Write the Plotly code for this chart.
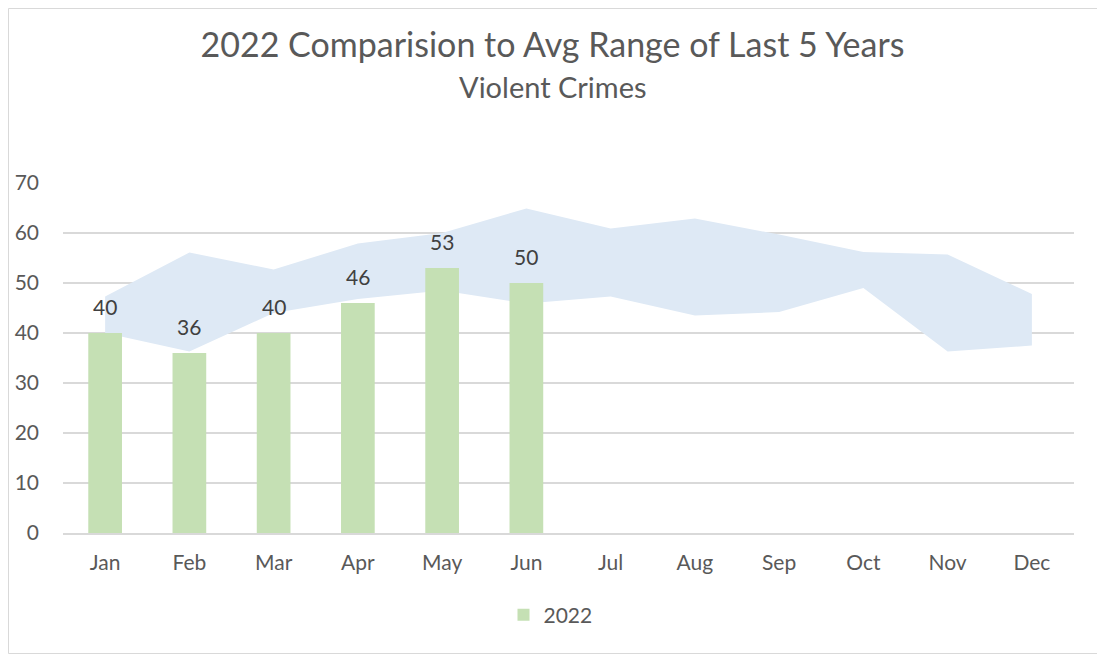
import plotly.graph_objects as go

months = ["Jan", "Feb", "Mar", "Apr", "May", "Jun",
          "Jul", "Aug", "Sep", "Oct", "Nov", "Dec"]
range_low = [40, 36.3, 44.0, 46.8, 48.5, 45.9, 47.3, 43.5, 44.2, 49.0, 36.3, 37.5]
range_high = [47.3, 56.1, 52.7, 57.9, 60.0, 64.9, 60.9, 62.9, 59.7, 56.2, 55.7, 47.8]
months_2022 = ["Jan", "Feb", "Mar", "Apr", "May", "Jun"]
crimes_2022 = [40, 36, 40, 46, 53, 50]

FONT = "Lato"
GRID = "#D9D9D9"
TXT = "#595959"

# plot area in figure pixels (page has an 8px body margin)
L, R, T, B = 55, 39, 175, 129
PW, PH = 1105 - L - R, 654 - T - B
CX = (552.5 - 8 - L) / PW  # horizontal centre of the visible chart, paper coords

fig = go.Figure()

# avg range band (main axes, underneath)
fig.add_trace(go.Scatter(x=months, y=range_low, mode="lines", line=dict(width=0),
                         showlegend=False, hoverinfo="skip"))
fig.add_trace(go.Scatter(x=months, y=range_high, mode="lines", line=dict(width=0),
                         fill="tonexty", fillcolor="#DEE9F5",
                         showlegend=False, hoverinfo="skip"))

# 2022 bars on an overlaid axis so they sit on top of the band
fig.add_trace(go.Bar(x=months_2022, y=crimes_2022, name="2022",
                     marker=dict(color="#C5E0B4", line=dict(width=0)),
                     width=0.4, xaxis="x2", yaxis="y2"))

for m, v in zip(months_2022, crimes_2022):
    fig.add_annotation(x=m, y=v, xref="x2", yref="y2", text=str(v),
                       showarrow=False, yanchor="bottom", yshift=12,
                       font=dict(family=FONT, size=21, color="#404040"))

fig.add_annotation(x=CX, y=(654 - B - 78) / PH, xref="paper", yref="paper",
                   text="Violent Crimes", showarrow=False, yanchor="middle",
                   font=dict(family=FONT, size=29, color=TXT))

fig.add_shape(type="rect", xref="paper", yref="paper",
              x0=(0.5 - L) / PW, x1=(1096.5 - L) / PW,
              y0=(654 - B - 645.5) / PH, y1=(654 - B - 0.5) / PH,
              line=dict(color="#D9D9D9", width=1), layer="below")

fig.update_layout(
    width=1105, height=654,
    margin=dict(l=L, r=R, t=T, b=B, autoexpand=False),
    paper_bgcolor="white", plot_bgcolor="white",
    font=dict(family=FONT, color=TXT, size=21),
    title=dict(text="2022 Comparision to Avg Range of Last 5 Years",
               x=(552.5 - 8) / 1105, xanchor="center", y=1 - 37 / 654, yanchor="middle",
               font=dict(family=FONT, size=34, color=TXT)),
    xaxis=dict(type="category", categoryorder="array", categoryarray=months,
               range=[-0.5, 11.5], showgrid=False, showline=True, automargin=False,
               linecolor=GRID, linewidth=1.5, ticks="", ticklabelstandoff=10,
               tickfont=dict(size=21, color=TXT)),
    yaxis=dict(range=[0, 70], dtick=10, showgrid=True, gridcolor=GRID,
               gridwidth=1.5, zeroline=False, ticks="", ticklabelstandoff=23,
               automargin=False, tickfont=dict(size=21, color=TXT)),
    xaxis2=dict(type="category", categoryorder="array", categoryarray=months,
                range=[-0.5, 11.5], overlaying="x", visible=False),
    yaxis2=dict(range=[0, 70], overlaying="y", visible=False),
    showlegend=True,
    legend=dict(orientation="h", x=CX - 2 / PW, xanchor="center",
                y=(654 - B - 607) / PH, yanchor="middle",
                font=dict(family=FONT, size=21, color=TXT)),
)

fig.write_html("out.html")
